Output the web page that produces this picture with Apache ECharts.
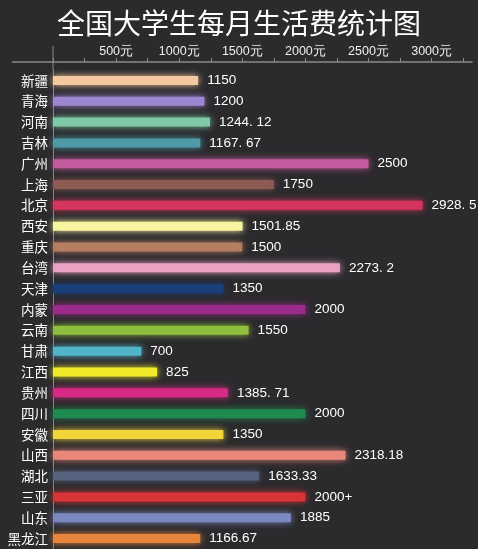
<!DOCTYPE html>
<html>
<head>
<meta charset="utf-8">
<script src="https://cdn.jsdelivr.net/npm/echarts@6/dist/echarts.min.js"></script>
<style>
html,body{margin:0;padding:0;background:#2b2a2d;}
#c{width:478px;height:549px;}
</style>
</head>
<body>
<div id="c"></div>
<script>
const categories = ['新疆','青海','河南','吉林','广州','上海','北京','西安','重庆','台湾','天津','内蒙','云南','甘肃','江西','贵州','四川','安徽','山西','湖北','三亚','山东','黑龙江'];
const values = [1150,1200,1244.12,1167.67,2500,1750,2928.5,1501.85,1500,2273.2,1350,2000,1550,700,825,1385.71,2000,1350,2318.18,1633.33,2000,1885,1166.67];
const valueLabels = ['1150','1200','1244. 12','1167. 67','2500','1750','2928. 5','1501.85','1500','2273. 2','1350','2000','1550','700','825','1385. 71','2000','1350','2318.18','1633.33','2000+','1885','1166.67'];
const barColors = ['#f5c9a0','#9c87d0','#7fc9a7','#4e9aa6','#c45a9e','#8d5b54','#d6365e','#f8f5a0','#b57d62','#e9a1c4','#1a3f7a','#9b2c8d','#8fbd3e','#52b5c7','#f0ea2a','#d62a84','#1f8a4f','#f2d43b','#e8877a','#56627e','#d63437','#7b88bf','#e6843c'];
const axisTicks = [500,1000,1500,2000,2500,3000];

const chart = echarts.init(document.getElementById('c'));
chart.setOption({
  backgroundColor: '#2b2a2d',
  animation: false,
  title: {
    text: '全国大学生每月生活费统计图',
    left: 'center',
    top: 4,
    textStyle: {color: '#ffffff', fontSize: 28, fontWeight: 'normal', fontFamily: 'Noto Sans CJK SC'}
  },
  graphic: [{
    type: 'line', silent: true,
    shape: {x1: 12, y1: 62, x2: 53, y2: 62},
    style: {stroke: '#8a8a8a', lineWidth: 1.5}
  }, {
    type: 'line', silent: true,
    shape: {x1: 53, y1: 46, x2: 53, y2: 70},
    style: {stroke: '#8a8a8a', lineWidth: 1}
  }],
  grid: {left: 53, right: 6, top: 70, bottom: -5, containLabel: false},
  xAxis: {
    type: 'value',
    position: 'top',
    min: 0,
    max: 3320,
    interval: 250,
    offset: 8,
    axisLine: {show: true, lineStyle: {color: '#8a8a8a', width: 1.5}},
    axisTick: {show: true, inside: false, length: 4, lineStyle: {color: '#8a8a8a'}},
    splitLine: {show: false},
    axisLabel: {
      color: '#eeeeee', fontSize: 12.5, margin: 4, fontFamily: 'Liberation Sans',
      showMaxLabel: false,
      formatter: v => axisTicks.indexOf(v) >= 0 ? v + '元' : ''
    }
  },
  yAxis: {
    type: 'category',
    data: categories,
    inverse: true,
    axisLine: {show: true, lineStyle: {color: '#8a8a8a', width: 1}},
    axisTick: {show: false},
    axisLabel: {color: '#ffffff', fontSize: 13.5, margin: 5, fontFamily: 'Noto Sans CJK SC'}
  },
  series: [{
    type: 'bar',
    barWidth: 9,
    data: values.map((v, i) => ({
      value: v,
      itemStyle: {color: barColors[i], shadowColor: barColors[i], shadowBlur: 7},
      label: {formatter: valueLabels[i]}
    })),
    label: {
      show: true,
      position: 'right',
      distance: 9,
      color: '#ffffff',
      fontSize: 13.5,
      fontFamily: 'Liberation Sans'
    }
  }]
});
</script>
</body>
</html>
